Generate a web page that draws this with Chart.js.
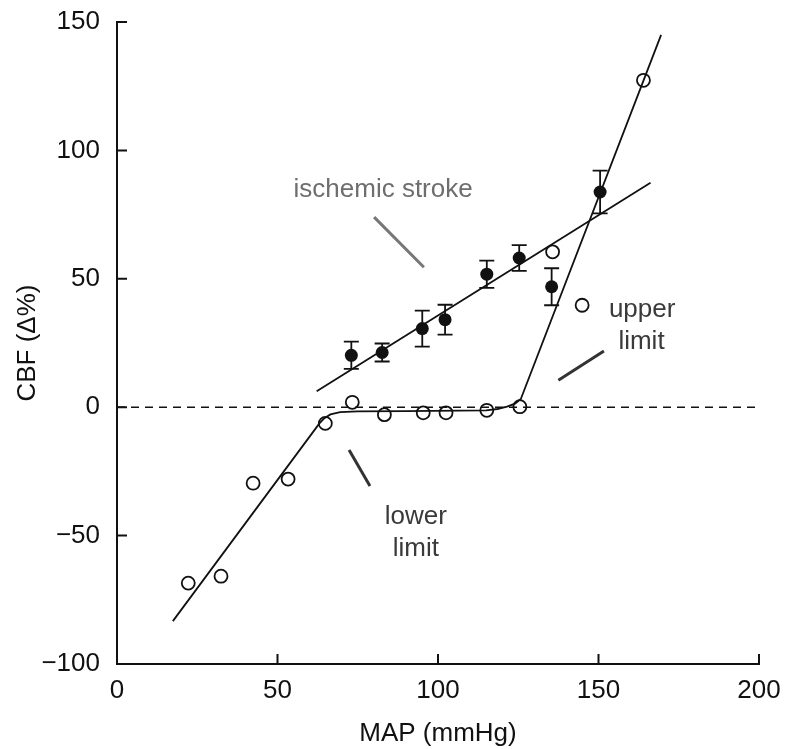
<!DOCTYPE html>
<html>
<head>
<meta charset="utf-8">
<script src="https://cdn.jsdelivr.net/npm/chart.js@4.4.1/dist/chart.umd.min.js"></script>
<style>
  html, body { margin: 0; padding: 0; background: #fff; }
  #wrap { width: 787px; height: 749px; position: relative; }
</style>
</head>
<body>
<div id="wrap"><canvas id="chart"></canvas></div>
<script>
// Pontos abertos (autorregulação)
const openX = [22.2, 32.4, 42.4, 53.3, 64.9, 73.3, 83.3, 95.4, 102.5, 115.2, 125.5, 135.7, 144.9, 164.0];
const openY = [-68.5, -65.8, -29.6, -28.0, -6.3, 1.9, -2.9, -2.2, -2.2, -1.2, 0.2, 60.5, 39.7, 127.3];

// Pontos cheios (AVC isquêmico) com erro
const strokeX = [73.0, 82.6, 95.1, 102.2, 115.2, 125.3, 135.4, 150.5];
const strokeY = [20.2, 21.3, 30.6, 34.1, 51.8, 58.1, 46.9, 83.8];
const strokeErr = [5.3, 3.5, 7.0, 5.8, 5.3, 5.0, 7.2, 8.3];

// Curva de autorregulação (vértices)
const curveX = [17.4, 61.1, 63.0, 64.6, 66.5, 69.5, 75, 90, 115, 118.5, 121.5, 124, 125.8, 169.5];
const curveY = [-83.3, -9.6, -6.4, -4.3, -2.8, -1.9, -1.6, -1.5, -1.2, -0.7, 0.2, 1.4, 3.2, 145];

// Reta de regressão do AVC isquêmico
const strokeLineX = [62.2, 166.2];
const strokeLineY = [6.2, 87.4];

// Linhas indicadoras
const pointerStrokeX = [80.1, 95.6];
const pointerStrokeY = [74.0, 54.5];
const pointerLowerX = [72.3, 78.8];
const pointerLowerY = [-16.7, -30.7];
const pointerUpperX = [137.5, 151.7];
const pointerUpperY = [10.5, 21.9];

const xTicks = [0, 50, 100, 150, 200];
const yTicks = [-100, -50, 0, 50, 100, 150];

const toPts = (xs, ys) => xs.map((x, i) => ({ x: x, y: ys[i] }));

const FONT = "'Liberation Sans', Arial, sans-serif";

// Barras de erro e marcas internas dos eixos
const extrasPlugin = {
    id: 'extras',
    beforeDatasetDraw(chart, args) {
        if (args.index !== 4) return;
        const { ctx, scales: { x, y } } = chart;
        ctx.save();
        ctx.strokeStyle = '#111';
        ctx.lineWidth = 1.8;
        strokeX.forEach((v, i) => {
            const px = x.getPixelForValue(v);
            const top = y.getPixelForValue(strokeY[i] + strokeErr[i]);
            const bot = y.getPixelForValue(strokeY[i] - strokeErr[i]);
            ctx.beginPath();
            ctx.moveTo(px, top); ctx.lineTo(px, bot);
            ctx.moveTo(px - 7.5, top); ctx.lineTo(px + 7.5, top);
            ctx.moveTo(px - 7.5, bot); ctx.lineTo(px + 7.5, bot);
            ctx.stroke();
        });
        ctx.restore();
    },
    afterDraw(chart) {
        const { ctx, scales: { x, y }, chartArea } = chart;
        ctx.save();
        ctx.strokeStyle = '#111';
        ctx.lineWidth = 2;
        ctx.beginPath();
        xTicks.slice(1).forEach(v => {
            const px = x.getPixelForValue(v);
            ctx.moveTo(px, chartArea.bottom); ctx.lineTo(px, chartArea.bottom - 10);
        });
        yTicks.slice(1).forEach(v => {
            const py = y.getPixelForValue(v);
            ctx.moveTo(chartArea.left, py); ctx.lineTo(chartArea.left + 10, py);
        });
        ctx.stroke();

        // textos
        ctx.font = '26px ' + FONT;
        ctx.textAlign = 'center';
        ctx.textBaseline = 'middle';
        ctx.fillStyle = '#6e6e6e';
        ctx.fillText('ischemic stroke', x.getPixelForValue(82.9), y.getPixelForValue(84.5));
        ctx.fillStyle = '#3a3a3a';
        ctx.fillText('upper', x.getPixelForValue(163.6), y.getPixelForValue(37.8));
        ctx.fillText('limit', x.getPixelForValue(163.4), y.getPixelForValue(25.3));
        ctx.fillText('lower', x.getPixelForValue(93.1), y.getPixelForValue(-42.8));
        ctx.fillText('limit', x.getPixelForValue(93.1), y.getPixelForValue(-55.3));
        ctx.restore();
    }
};

const ctx = document.getElementById('chart').getContext('2d');
const chart = new Chart(ctx, {
    type: 'scatter',
    data: {
        datasets: [
            {
                data: [{ x: 0, y: 0 }, { x: 200, y: 0 }],
                showLine: true, borderColor: '#111', borderWidth: 1.6,
                borderDash: [8, 6], pointRadius: 0
            },
            {
                data: toPts(curveX, curveY),
                showLine: true, borderColor: '#111', borderWidth: 1.8,
                pointRadius: 0, tension: 0
            },
            {
                data: toPts(strokeLineX, strokeLineY),
                showLine: true, borderColor: '#111', borderWidth: 1.8, pointRadius: 0
            },
            {
                data: toPts(openX, openY),
                pointRadius: 6.5, pointBackgroundColor: '#fff',
                pointBorderColor: '#111', pointBorderWidth: 1.8
            },
            {
                data: toPts(strokeX, strokeY),
                pointRadius: 6.5, pointBackgroundColor: '#111',
                pointBorderColor: '#111', pointBorderWidth: 0
            },
            {
                data: toPts(pointerStrokeX, pointerStrokeY),
                showLine: true, borderColor: '#777', borderWidth: 3, pointRadius: 0
            },
            {
                data: toPts(pointerLowerX, pointerLowerY),
                showLine: true, borderColor: '#333', borderWidth: 3, pointRadius: 0
            },
            {
                data: toPts(pointerUpperX, pointerUpperY),
                showLine: true, borderColor: '#333', borderWidth: 3, pointRadius: 0
            }
        ]
    },
    options: {
        responsive: true,
        maintainAspectRatio: false,
        animation: false,
        layout: { padding: { left: 0, right: 28, top: 22, bottom: 0 } },
        plugins: {
            legend: { display: false },
            tooltip: { enabled: false }
        },
        scales: {
            x: {
                type: 'linear',
                min: 0, max: 200,
                afterBuildTicks: s => { s.ticks = xTicks.map(v => ({ value: v })); },
                afterFit: s => { s.height = 85; s.paddingLeft = 0; s.paddingRight = 0; },
                grid: { display: false, drawTicks: false },
                border: { display: true, color: '#111', width: 2 },
                ticks: {
                    padding: 11, color: '#111',
                    font: { family: FONT, size: 26 },
                    callback: v => String(v).replace('-', '\u2212')
                },
                title: {
                    display: true, text: 'MAP (mmHg)', color: '#111',
                    font: { family: FONT, size: 26 }, padding: { top: 0, bottom: 0 }
                }
            },
            y: {
                type: 'linear',
                min: -100, max: 150,
                afterBuildTicks: s => { s.ticks = yTicks.map(v => ({ value: v })); },
                afterFit: s => { s.width = 117; s.paddingTop = 0; s.paddingBottom = 0; },
                grid: { display: false, drawTicks: false },
                border: { display: true, color: '#111', width: 2 },
                ticks: {
                    padding: 17, color: '#111',
                    font: { family: FONT, size: 26 },
                    callback: v => String(v).replace('-', '\u2212')
                },
                title: {
                    display: true, text: 'CBF (\u0394%)', color: '#111',
                    font: { family: FONT, size: 26 }, padding: { top: 12, bottom: 0 }
                }
            }
        }
    },
    plugins: [extrasPlugin]
});
</script>
</body>
</html>
